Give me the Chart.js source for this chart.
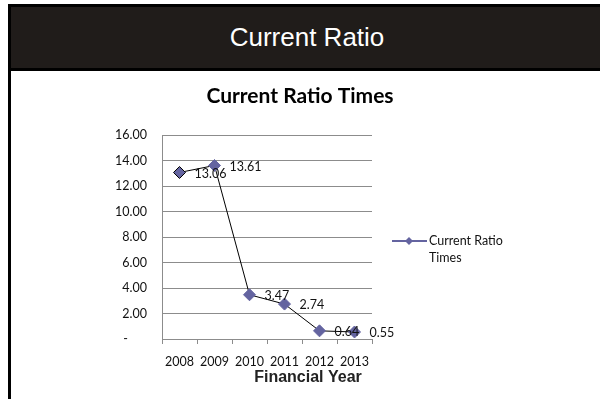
<!DOCTYPE html>
<html>
<head>
<meta charset="utf-8">
<script src="https://cdn.jsdelivr.net/npm/chart.js@4"></script>
<style>
  html, body { margin: 0; padding: 0; background: #fff; }
  #wrap { position: relative; width: 600px; height: 399px; overflow: hidden; }
  #band {
    position: absolute; left: 8px; top: 4px; width: 592px; height: 61px;
    background: #201c1a; border: 3px solid #000; border-right: 0;
    color: #fff; font-family: "Liberation Sans", Arial, sans-serif;
    font-size: 26px; text-align: center; line-height: 61px;
  }
  #edge { position: absolute; left: 8px; top: 70px; width: 3px; height: 329px; background: #000; }
  canvas { position: absolute; left: 0; top: 0; }
</style>
</head>
<body>
<div id="wrap">
  <div id="band">Current Ratio</div>
  <div id="edge"></div>
  <canvas id="ratioChart" width="600" height="399"></canvas>
</div>
<script>
// data
const years = ['2008', '2009', '2010', '2011', '2012', '2013'];
const currentRatio = [13.06, 13.61, 3.47, 2.74, 0.64, 0.55];
const seriesName = 'Current Ratio Times';
const chartTitle = 'Current Ratio Times';
const xAxisTitle = 'Financial Year';

const numFont = '12.5px Lato, "Open Sans", sans-serif';
const markColor = '#6464a0';

// value labels to the right of each point
const valueLabels = {
    id: 'valueLabels',
    afterDatasetsDraw(chart) {
        const ctx = chart.ctx;
        const meta = chart.getDatasetMeta(0);
        ctx.save();
        ctx.font = numFont;
        ctx.fillStyle = '#111';
        ctx.textAlign = 'left';
        ctx.textBaseline = 'middle';
        meta.data.forEach((pt, i) => {
            ctx.fillText(currentRatio[i].toFixed(2), pt.x + 15, pt.y + 1);
        });
        ctx.restore();
    }
};

// chart title, axis title and legend
const extras = {
    id: 'extras',
    afterDraw(chart) {
        const ctx = chart.ctx;
        const area = chart.chartArea;
        ctx.save();
        ctx.fillStyle = '#000';
        ctx.textBaseline = 'middle';
        ctx.textAlign = 'center';
        ctx.font = 'bold 21px Lato, "Open Sans", sans-serif';
        ctx.fillText(chartTitle, 300, 96);
        ctx.font = 'bold 16px "Liberation Sans", Arial, sans-serif';
        ctx.fillStyle = '#222';
        ctx.fillText(xAxisTitle, 308, 378);

        // legend
        const lx = area.right + 20, ly = 241;
        ctx.strokeStyle = markColor;
        ctx.lineWidth = 2;
        ctx.beginPath();
        ctx.moveTo(lx, ly);
        ctx.lineTo(lx + 35, ly);
        ctx.stroke();
        ctx.fillStyle = markColor;
        ctx.beginPath();
        ctx.moveTo(lx + 17, ly - 4);
        ctx.lineTo(lx + 21, ly);
        ctx.lineTo(lx + 17, ly + 4);
        ctx.lineTo(lx + 13, ly);
        ctx.closePath();
        ctx.fill();
        ctx.fillStyle = '#111';
        ctx.textAlign = 'left';
        ctx.font = numFont;
        const words = seriesName.split(' ');
        ctx.fillText(words.slice(0, 2).join(' '), lx + 37, ly);
        ctx.fillText(words.slice(2).join(' '), lx + 37, ly + 17);
        ctx.restore();
    }
};

const ctx = document.getElementById('ratioChart').getContext('2d');

const ratioChart = new Chart(ctx, {
    type: 'line',
    data: {
        labels: years,
        datasets: [{
            label: seriesName,
            data: currentRatio,
            borderColor: '#000',
            borderWidth: 1,
            tension: 0,
            pointStyle: 'rectRot',
            pointRadius: 6,
            pointBackgroundColor: markColor,
            pointBorderColor: ['#000', markColor, markColor, markColor, markColor, markColor],
            pointBorderWidth: 1
        }]
    },
    options: {
        responsive: false,
        animation: false,
        layout: { padding: { left: 102, right: 228, top: 135, bottom: 0 } },
        plugins: {
            legend: { display: false },
            title: { display: false },
            tooltip: { enabled: false }
        },
        scales: {
            x: {
                offset: true,
                grid: { offset: true, drawOnChartArea: false, drawTicks: true, tickLength: 5, color: '#8c8c8c' },
                border: { color: '#8c8c8c' },
                ticks: { color: '#111', font: { family: 'Lato', size: 12.5 }, padding: 10, maxRotation: 0, autoSkip: false },
                afterFit(s) { s.height = 60; }
            },
            y: {
                min: 0,
                max: 16,
                grid: { color: '#8c8c8c', drawTicks: false },
                border: { color: '#8c8c8c' },
                ticks: {
                    stepSize: 2,
                    color: '#111',
                    padding: 15,
                    font: { family: 'Lato', size: 12.5 },
                    callback: (v) => v === 0 ? '-      ' : v.toFixed(2)
                },
                afterFit(s) { s.width = 60; }
            }
        }
    },
    plugins: [valueLabels, extras]
});
</script>
</body>
</html>
